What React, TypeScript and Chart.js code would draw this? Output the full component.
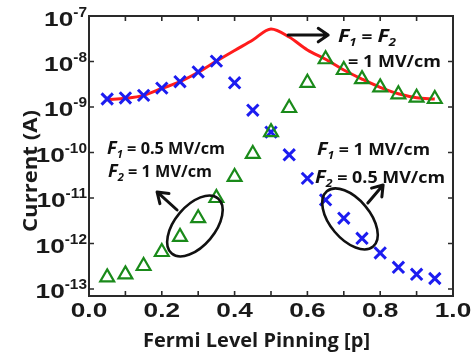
import { useEffect, useRef } from "react";
import { Chart, registerables } from "chart.js";

Chart.register(...registerables);

// ---- data ----
const pinning = [0.05, 0.1, 0.15, 0.2, 0.25, 0.3, 0.35, 0.4, 0.45, 0.5, 0.55, 0.6, 0.65, 0.7, 0.75, 0.8, 0.85, 0.9, 0.95];
// red line: F1 = F2 = 1 MV/cm
const equalFieldCurrent = [1.45e-9, 1.55e-9, 1.8e-9, 2.55e-9, 3.6e-9, 5.8e-9, 1.02e-8, 1.75e-8, 2.97e-8, 5.2e-8, 3.45e-8, 1.79e-8, 1.12e-8, 6.5e-9, 4.1e-9, 2.7e-9, 1.95e-9, 1.6e-9, 1.5e-9];
// blue crosses: F1 = 1, F2 = 0.5 MV/cm
const crossCurrent = [1.5e-9, 1.58e-9, 1.8e-9, 2.6e-9, 3.6e-9, 5.9e-9, 1.02e-8, 3.4e-9, 8.5e-10, 2.8e-10, 8.9e-11, 2.7e-11, 9.1e-12, 3.6e-12, 1.3e-12, 6.2e-13, 3.0e-13, 2.1e-13, 1.7e-13];
// green triangles: F1 = 0.5, F2 = 1 MV/cm
const triangleCurrent = [1.8e-13, 2.1e-13, 3.2e-13, 6.5e-13, 1.4e-12, 3.6e-12, 1.0e-11, 2.9e-11, 9.3e-11, 2.8e-10, 9.5e-10, 3.4e-9, 1.12e-8, 6.5e-9, 4.1e-9, 2.7e-9, 1.9e-9, 1.6e-9, 1.5e-9];

const xMajorTicks = [0, 0.2, 0.4, 0.6, 0.8, 1.0];
const xTickLabels = ["0.0", "0.2", "0.4", "0.6", "0.8", "1.0"];
const xMinorTicks = [0.1, 0.2, 0.3, 0.4, 0.5, 0.6, 0.7, 0.8, 0.9];
const yExponents = [-13, -12, -11, -10, -9, -8, -7];
const yMinLog = -13.154;
const yMaxLog = -7;

const xTitle = "Fermi Level Pinning [p]";
const yTitle = "Current (A)";

type Run = { t: string; font: string; dy?: number };
const FI = 'italic bold 18px "Open Sans"';
const SUB = 'italic bold 11px "Open Sans"';
const REG = 'bold 16px "Open Sans"';

// annotation text: [p, log10(current) of baseline, target width, runs]
const annotations: { p: number; lg: number; w: number; runs: Run[] }[] = [
  { p: 0.684, lg: -7.565, w: 58, runs: [{ t: "F", font: FI }, { t: "1", font: SUB, dy: 4 }, { t: " = ", font: REG }, { t: "F", font: FI }, { t: "2", font: SUB, dy: 4 }] },
  { p: 0.7115, lg: -8.114, w: 93, runs: [{ t: "= 1 MV/cm", font: REG }] },
  { p: 0.0495, lg: -10.033, w: 118, runs: [{ t: "F", font: FI }, { t: "1", font: SUB, dy: 4 }, { t: " = 0.5 MV/cm", font: REG }] },
  { p: 0.0522, lg: -10.545, w: 104, runs: [{ t: "F", font: FI }, { t: "2", font: SUB, dy: 4 }, { t: " = 1 MV/cm", font: REG }] },
  { p: 0.6264, lg: -10.055, w: 113, runs: [{ t: "F", font: FI }, { t: "1", font: SUB, dy: 4 }, { t: " = 1 MV/cm", font: REG }] },
  { p: 0.6209, lg: -10.664, w: 130, runs: [{ t: "F", font: FI }, { t: "2", font: SUB, dy: 4 }, { t: " = 0.5 MV/cm", font: REG }] },
];

// arrows: from (p, lg) to (p, lg)
const arrows = [
  { p1: 0.547, l1: -7.418, p2: 0.657, l2: -7.418 },
  { p1: 0.242, l1: -11.264, p2: 0.187, l2: -10.868 },
  { p1: 0.766, l1: -11.11, p2: 0.808, l2: -10.714 },
];
// ellipses: centre (p, lg), radii px, rotation deg
const ellipses = [
  { p: 0.291, lg: -11.615, rx: 36, ry: 20, rot: -50 },
  { p: 0.717, lg: -11.46, rx: 36, ry: 20, rot: 50 },
];

function drawRuns(ctx: CanvasRenderingContext2D, runs: Run[], x: number, y: number, target: number) {
  let total = 0;
  for (const r of runs) {
    ctx.font = r.font;
    total += ctx.measureText(r.t).width;
  }
  const sx = target / total;
  let cx = x;
  for (const r of runs) {
    ctx.font = r.font;
    const w = ctx.measureText(r.t).width;
    ctx.save();
    ctx.translate(cx, y + (r.dy || 0));
    ctx.scale(sx, 1);
    ctx.textAlign = "left";
    ctx.textBaseline = "alphabetic";
    ctx.fillText(r.t, 0, 0);
    ctx.restore();
    cx += w * sx;
  }
}

function drawScaled(ctx: CanvasRenderingContext2D, text: string, x: number, y: number, font: string, sx: number, align: string) {
  ctx.font = font;
  const w = ctx.measureText(text).width * sx;
  const x0 = align === "center" ? x - w / 2 : align === "right" ? x - w : x;
  ctx.save();
  ctx.translate(x0, y);
  ctx.scale(sx, 1);
  ctx.textAlign = "left";
  ctx.textBaseline = "alphabetic";
  ctx.fillText(text, 0, 0);
  ctx.restore();
  return w;
}

function drawArrow(ctx: CanvasRenderingContext2D, x1: number, y1: number, x2: number, y2: number) {
  const ang = Math.atan2(y2 - y1, x2 - x1);
  const hl = 12;
  const spread = 0.6;
  ctx.beginPath();
  ctx.moveTo(x1, y1);
  ctx.lineTo(x2, y2);
  ctx.moveTo(x2 - hl * Math.cos(ang - spread), y2 - hl * Math.sin(ang - spread));
  ctx.lineTo(x2, y2);
  ctx.lineTo(x2 - hl * Math.cos(ang + spread), y2 - hl * Math.sin(ang + spread));
  ctx.stroke();
}

const decorPlugin = {
  id: "decor",
  beforeDatasetsDraw(chart: any) {
    const { ctx, chartArea: a, scales } = chart;
    const xs = scales.x;
    const ys = scales.y;
    ctx.save();
    ctx.strokeStyle = "#2a2a2a";
    ctx.lineWidth = 1.6;
    ctx.beginPath();
    for (const v of xMinorTicks) {
      const px = xs.getPixelForValue(v);
      ctx.moveTo(px, a.bottom);
      ctx.lineTo(px, a.bottom - 5);
      ctx.moveTo(px, a.top);
      ctx.lineTo(px, a.top + 5);
    }
    for (const e of yExponents) {
      const py = ys.getPixelForValue(Math.pow(10, e));
      ctx.moveTo(a.left, py);
      ctx.lineTo(a.left + 5, py);
      ctx.moveTo(a.right, py);
      ctx.lineTo(a.right - 5, py);
    }
    ctx.stroke();
    ctx.lineWidth = 2;
    ctx.strokeRect(a.left, a.top, a.right - a.left, a.bottom - a.top);
    ctx.restore();
  },
  afterDatasetsDraw(chart: any) {
    const { ctx, chartArea: a, scales } = chart;
    const xs = scales.x;
    const ys = scales.y;
    ctx.save();
    ctx.fillStyle = "#1a1a1a";
    // x tick labels
    xMajorTicks.forEach((v, i) => {
      drawScaled(ctx, xTickLabels[i], xs.getPixelForValue(v), a.bottom + 21, 'bold 21px "Liberation Sans"', 1.25, "center");
    });
    // y tick labels 10^e
    for (const e of yExponents) {
      const py = ys.getPixelForValue(Math.pow(10, e));
      ctx.font = 'bold 14px "Liberation Sans"';
      const expText = String(e);
      const ew = ctx.measureText(expText).width * 1.1;
      const ex = a.left - 2 - ew;
      drawScaled(ctx, expText, ex, py + 0.5, 'bold 14px "Liberation Sans"', 1.1, "left");
      drawScaled(ctx, "10", ex, py + 9.5, 'bold 21px "Liberation Sans"', 1.25, "right");
    }
    // axis titles
    ctx.font = 'bold 20px "Open Sans"';
    const xw = ctx.measureText(xTitle).width;
    drawScaled(ctx, xTitle, 256.5, 346.5, 'bold 20px "Open Sans"', 227 / xw, "center");
    ctx.save();
    ctx.translate(36.5, 171);
    ctx.rotate(-Math.PI / 2);
    ctx.font = 'bold 19px "Open Sans"';
    const yw = ctx.measureText(yTitle).width;
    drawScaled(ctx, yTitle, 0, 0, 'bold 19px "Open Sans"', 122 / yw, "center");
    ctx.restore();

    // annotations
    ctx.fillStyle = "#111";
    for (const an of annotations) {
      drawRuns(ctx, an.runs, xs.getPixelForValue(an.p), ys.getPixelForValue(Math.pow(10, an.lg)), an.w);
    }
    ctx.strokeStyle = "#111";
    ctx.lineWidth = 3;
    ctx.lineCap = "round";
    ctx.lineJoin = "round";
    for (const ar of arrows) {
      drawArrow(
        ctx,
        xs.getPixelForValue(ar.p1), ys.getPixelForValue(Math.pow(10, ar.l1)),
        xs.getPixelForValue(ar.p2), ys.getPixelForValue(Math.pow(10, ar.l2))
      );
    }
    ctx.lineWidth = 2.6;
    for (const el of ellipses) {
      ctx.beginPath();
      ctx.ellipse(
        xs.getPixelForValue(el.p), ys.getPixelForValue(Math.pow(10, el.lg)),
        el.rx, el.ry, (el.rot * Math.PI) / 180, 0, Math.PI * 2
      );
      ctx.stroke();
    }
    ctx.restore();
  },
};

export default function App() {
  const ref = useRef<HTMLCanvasElement | null>(null);
  useEffect(() => {
    if (!ref.current) return;
    const chart = new Chart(ref.current, {
      type: "scatter",
      data: {
        datasets: [
          {
            label: "F1 = F2 = 1 MV/cm",
            data: pinning.map((p, i) => ({ x: p, y: equalFieldCurrent[i] })),
            showLine: true,
            borderColor: "#ff1c1c",
            borderWidth: 3,
            pointRadius: 0,
            pointHoverRadius: 0,
            cubicInterpolationMode: "monotone",
            order: 3,
          },
          {
            label: "F1 = 1, F2 = 0.5 MV/cm",
            data: pinning.map((p, i) => ({ x: p, y: crossCurrent[i] })),
            showLine: false,
            pointStyle: "crossRot",
            pointRadius: 8,
            pointHoverRadius: 8,
            borderColor: "#1c1cf0",
            pointBorderWidth: 3,
            order: 2,
          },
          {
            label: "F1 = 0.5, F2 = 1 MV/cm",
            data: pinning.map((p, i) => ({ x: p, y: triangleCurrent[i] })),
            showLine: false,
            pointStyle: "triangle",
            pointRadius: 8,
            pointHoverRadius: 8,
            borderColor: "#1a8a1a",
            backgroundColor: "rgba(255,255,255,0)",
            pointBorderWidth: 2.2,
            order: 1,
          },
        ],
      },
      options: {
        animation: false,
        responsive: true,
        maintainAspectRatio: false,
        events: [],
        layout: { padding: { left: 89, right: 19, top: 16, bottom: 61 } },
        plugins: { legend: { display: false }, tooltip: { enabled: false }, title: { display: false } },
        scales: {
          x: { type: "linear", min: 0, max: 1, display: false },
          y: { type: "logarithmic", min: Math.pow(10, yMinLog), max: Math.pow(10, yMaxLog), display: false },
        },
      },
      plugins: [decorPlugin],
    } as any);
    return () => chart.destroy();
  }, []);
  return (
    <div style={{ position: "fixed", left: 0, top: 0, width: 472, height: 357, background: "#fff" }}>
      <canvas ref={ref} />
    </div>
  );
}
